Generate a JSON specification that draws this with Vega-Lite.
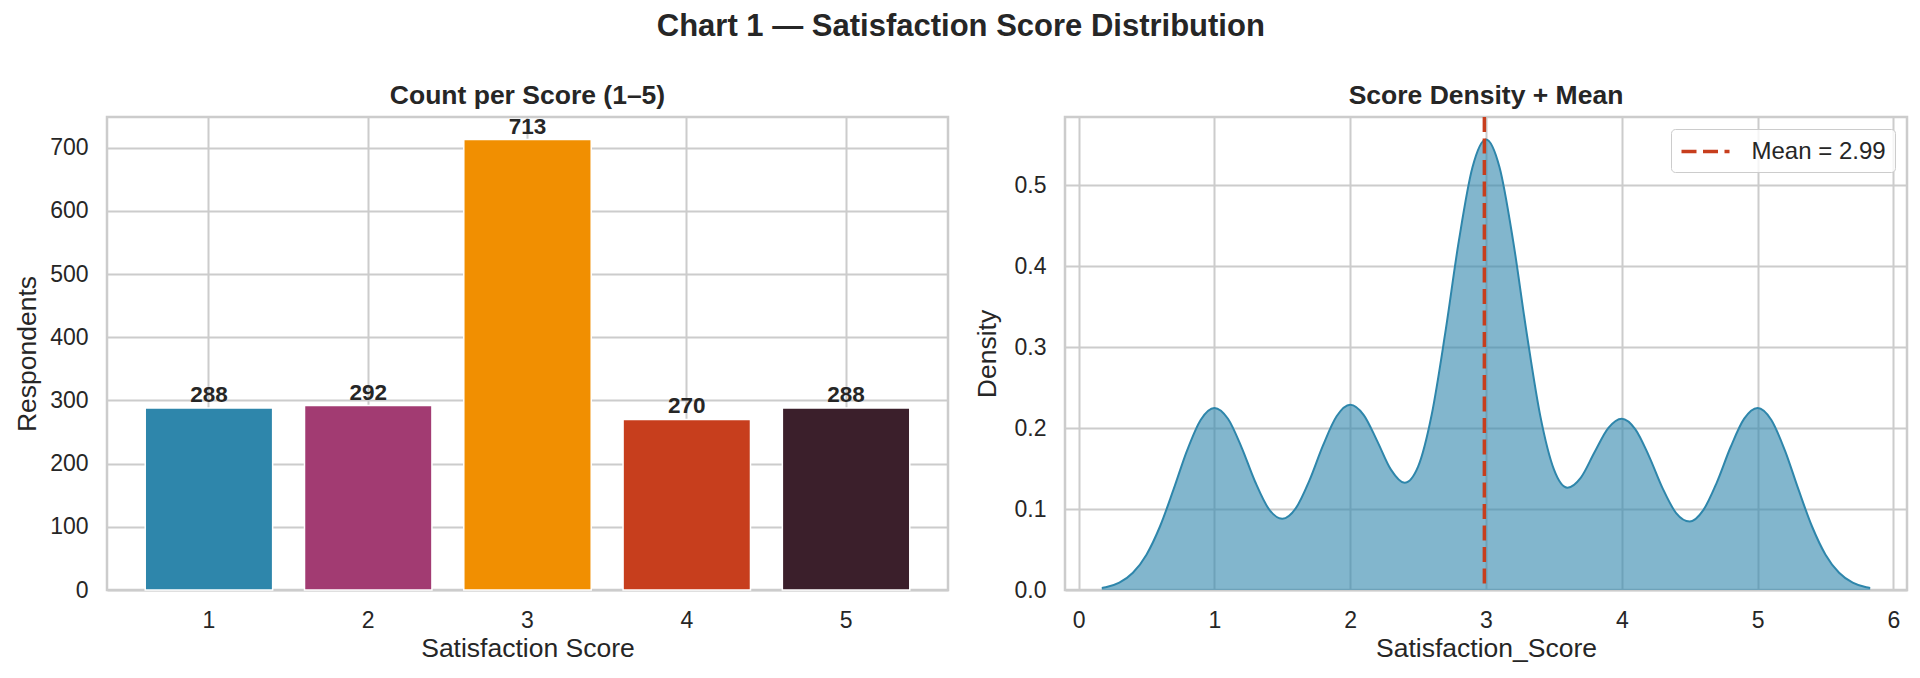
{
  "$schema": "https://vega.github.io/schema/vega-lite/v6.json",
  "background": "white",
  "padding": {"left": 13, "top": 10, "right": 10, "bottom": 5},
  "autosize": {"type": "pad"},
  "title": {
    "text": "Chart 1 — Satisfaction Score Distribution",
    "fontSize": 31,
    "fontWeight": "bold",
    "color": "#262626",
    "anchor": "middle",
    "offset": 39
  },
  "datasets": {
    "counts": [
      {"score": 1, "respondents": 288},
      {"score": 2, "respondents": 292},
      {"score": 3, "respondents": 713},
      {"score": 4, "respondents": 270},
      {"score": 5, "respondents": 288}
    ],
    "density": [
      {"x": 0.171, "density": 0.0025},
      {"x": 0.2, "density": 0.0034},
      {"x": 0.3, "density": 0.0091},
      {"x": 0.4, "density": 0.0213},
      {"x": 0.5, "density": 0.0437},
      {"x": 0.6, "density": 0.0788},
      {"x": 0.7, "density": 0.1246},
      {"x": 0.8, "density": 0.1729},
      {"x": 0.9, "density": 0.2105},
      {"x": 1.0, "density": 0.2250},
      {"x": 1.1, "density": 0.2116},
      {"x": 1.2, "density": 0.1763},
      {"x": 1.3, "density": 0.1338},
      {"x": 1.4, "density": 0.1003},
      {"x": 1.5, "density": 0.0880},
      {"x": 1.6, "density": 0.1011},
      {"x": 1.7, "density": 0.1354},
      {"x": 1.8, "density": 0.1787},
      {"x": 1.9, "density": 0.2147},
      {"x": 2.0, "density": 0.2289},
      {"x": 2.1, "density": 0.2162},
      {"x": 2.2, "density": 0.1837},
      {"x": 2.3, "density": 0.1488},
      {"x": 2.4, "density": 0.1325},
      {"x": 2.5, "density": 0.1525},
      {"x": 2.6, "density": 0.2166},
      {"x": 2.7, "density": 0.3177},
      {"x": 2.8, "density": 0.4314},
      {"x": 2.9, "density": 0.5221},
      {"x": 3.0, "density": 0.5568},
      {"x": 3.1, "density": 0.5221},
      {"x": 3.2, "density": 0.4312},
      {"x": 3.3, "density": 0.3170},
      {"x": 3.4, "density": 0.2149},
      {"x": 3.5, "density": 0.1491},
      {"x": 3.6, "density": 0.1265},
      {"x": 3.7, "density": 0.1393},
      {"x": 3.8, "density": 0.1705},
      {"x": 3.9, "density": 0.2001},
      {"x": 4.0, "density": 0.2117},
      {"x": 4.1, "density": 0.1986},
      {"x": 4.2, "density": 0.1655},
      {"x": 4.3, "density": 0.1259},
      {"x": 4.4, "density": 0.0951},
      {"x": 4.5, "density": 0.0847},
      {"x": 4.6, "density": 0.0987},
      {"x": 4.7, "density": 0.1331},
      {"x": 4.8, "density": 0.1761},
      {"x": 4.9, "density": 0.2115},
      {"x": 5.0, "density": 0.2250},
      {"x": 5.1, "density": 0.2105},
      {"x": 5.2, "density": 0.1729},
      {"x": 5.3, "density": 0.1246},
      {"x": 5.4, "density": 0.0788},
      {"x": 5.5, "density": 0.0437},
      {"x": 5.6, "density": 0.0213},
      {"x": 5.7, "density": 0.0091},
      {"x": 5.8, "density": 0.0034},
      {"x": 5.829, "density": 0.0025}
    ],
    "mean": [{"mean": 2.988, "label": "Mean = 2.99"}]
  },
  "spacing": 22,
  "resolve": {
    "scale": {"color": "independent"},
    "legend": {"color": "independent"}
  },
  "hconcat": [
    {
      "width": 841,
      "height": 473,
      "title": {"text": "Count per Score (1–5)"},
      "data": {"name": "counts"},
      "encoding": {
        "x": {
          "field": "score",
          "type": "ordinal",
          "title": "Satisfaction Score",
          "scale": {"paddingInner": 0.2, "paddingOuter": 0.24},
          "axis": {"labelAngle": 0, "grid": true, "bandPosition": 0.5, "titlePadding": 3}
        },
        "y": {
          "field": "respondents",
          "type": "quantitative",
          "title": "Respondents",
          "scale": {"domain": [0, 748.65], "nice": false},
          "axis": {"values": [0, 100, 200, 300, 400, 500, 600, 700]}
        }
      },
      "layer": [
        {
          "mark": {"type": "bar", "stroke": "white", "strokeWidth": 1.5},
          "encoding": {
            "color": {
              "field": "score",
              "type": "ordinal",
              "scale": {
                "domain": [1, 2, 3, 4, 5],
                "range": ["#2E86AB", "#A23B72", "#F18F01", "#C73E1D", "#3B1F2B"]
              },
              "legend": null
            }
          }
        },
        {
          "mark": {
            "type": "text",
            "baseline": "alphabetic",
            "dy": -6,
            "fontSize": 22.5,
            "fontWeight": "bold",
            "color": "#262626"
          },
          "encoding": {
            "text": {"field": "respondents", "type": "quantitative"}
          }
        }
      ]
    },
    {
      "width": 842,
      "height": 473,
      "title": {"text": "Score Density + Mean"},
      "layer": [
        {
          "data": {"name": "density"},
          "mark": {
            "type": "area",
            "interpolate": "monotone",
            "color": "#2E86AB",
            "fillOpacity": 0.6,
            "line": {"color": "#2E86AB", "strokeWidth": 2, "interpolate": "monotone"}
          },
          "encoding": {
            "x": {
              "field": "x",
              "type": "quantitative",
              "title": "Satisfaction_Score",
              "scale": {"domain": [-0.1, 6.1], "nice": false, "zero": false},
              "axis": {"values": [0, 1, 2, 3, 4, 5, 6], "format": "d", "titlePadding": 3}
            },
            "y": {
              "field": "density",
              "type": "quantitative",
              "title": "Density",
              "scale": {"domain": [0, 0.5846], "nice": false},
              "axis": {"values": [0, 0.1, 0.2, 0.3, 0.4, 0.5], "format": ".1f", "titlePadding": 13}
            }
          }
        },
        {
          "data": {"name": "mean"},
          "mark": {"type": "rule", "strokeDash": [15, 6.5], "strokeWidth": 3.5},
          "encoding": {
            "x": {"field": "mean", "type": "quantitative"},
            "color": {
              "field": "label",
              "type": "nominal",
              "scale": {"domain": ["Mean = 2.99"], "range": ["#C73E1D"]},
              "legend": {
                "title": null,
                "orient": "top-right",
                "offset": 12,
                "padding": 8.5,
                "fillColor": "rgba(255,255,255,0.8)",
                "strokeColor": "#cccccc",
                "cornerRadius": 4,
                "labelFontSize": 24,
                "labelColor": "#262626",
                "symbolType": "M-1,0H3",
                "symbolSize": 576,
                "symbolStrokeWidth": 3.5,
                "symbolDash": [15, 6.5],
                "labelOffset": 44
              }
            }
          }
        }
      ]
    }
  ],
  "config": {
    "font": "Liberation Sans",
    "view": {"stroke": "#cccccc", "strokeWidth": 2.5},
    "axis": {
      "domain": false,
      "ticks": false,
      "gridColor": "#cccccc",
      "gridWidth": 2,
      "labelFontSize": 23,
      "labelColor": "#262626",
      "labelPadding": 19,
      "titleFontSize": 26.5,
      "titleFontWeight": "normal",
      "titleColor": "#262626",
      "titlePadding": 8
    },
    "title": {"fontSize": 26.5, "fontWeight": "bold", "color": "#262626", "offset": 6}
  }
}
